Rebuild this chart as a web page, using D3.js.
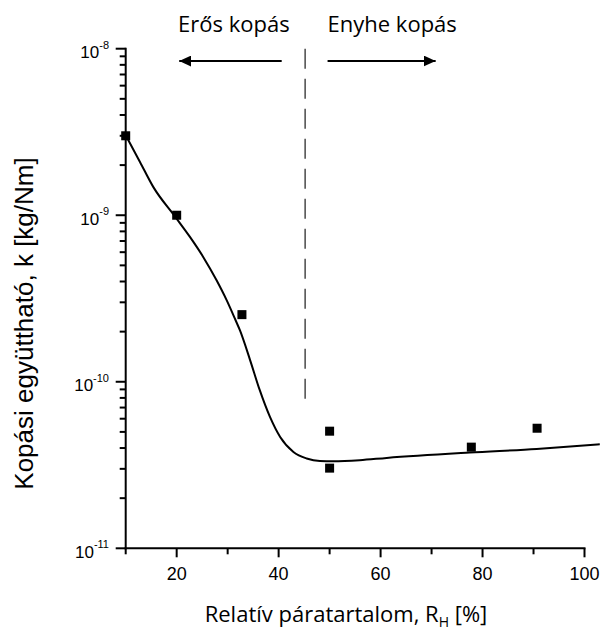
<!DOCTYPE html>
<html>
<head>
<meta charset="utf-8">
<script src="https://cdn.jsdelivr.net/npm/d3@7"></script>
<style>
	body { margin: 0; background: #fff; }
	svg { display: block; }
</style>
</head>
<body>
<div id="chart"></div>
<script>
// measured points
var measRH = [10, 20, 32.8, 50, 50, 77.8, 90.7];
var measK = [3.0e-9, 1.0e-9, 2.53e-10, 5.05e-11, 3.03e-11, 4.05e-11, 5.26e-11];

// fitted curve
var fitRH = [10, 12.8, 15.4, 19.7, 22.6, 25.2, 27.8, 29.8, 31.4, 32.4, 34.4, 36.3, 38.3, 40.3, 42.9, 45.5, 48.1, 50.7, 55.9, 61.2, 77.5, 90.6, 103];
var fitK = [3.02e-9, 2.09e-9, 1.48e-9, 9.8e-10, 7.41e-10, 5.62e-10, 4.08e-10, 3.09e-10, 2.40e-10, 2.04e-10, 1.35e-10, 8.9e-11, 6.15e-11, 4.66e-11, 3.79e-11, 3.46e-11, 3.34e-11, 3.33e-11, 3.38e-11, 3.49e-11, 3.76e-11, 3.95e-11, 4.21e-11];

// ticks
var xMajor = [20, 40, 60, 80, 100];
var xMinor = [10, 30, 50, 70, 90];
var yMajorExp = [-8, -9, -10, -11];

// boundary between the two regimes, and arrows
var boundaryRH = 45.2;
var arrowLeft = [40.6, 20.5];
var arrowRight = [49.6, 70.8];
var labelLeft = "Erős kopás";
var labelRight = "Enyhe kopás";

var width = 600, height = 630;
var margin = { top: 48.7, right: 15.5, bottom: 81.7, left: 125.7 };

var svg = d3.select("#chart")
	.append("svg")
	.attr("width", width)
	.attr("height", height);

var x = d3.scaleLinear()
	.domain([10, 100])
	.range([margin.left, width - margin.right]);

var y = d3.scaleLog()
	.domain([1e-11, 1e-8])
	.range([height - margin.bottom, margin.top]);

var y0 = height - margin.bottom;

// minor y ticks
var yMinor = [];
yMajorExp.slice(1).forEach(function (e) {
	for (var m = 2; m <= 9; m++) yMinor.push(m * Math.pow(10, e));
});

var tickFont = "'Liberation Sans', Arial, sans-serif";

// x ticks
svg.selectAll("line.xminor")
	.data(xMinor)
	.enter().append("line")
	.attr("class", "xminor")
	.attr("x1", function (d) { return x(d); }).attr("x2", function (d) { return x(d); })
	.attr("y1", y0).attr("y2", y0 + 6)
	.attr("stroke", "#000").attr("stroke-width", 2);

svg.selectAll("line.xmajor")
	.data(xMajor)
	.enter().append("line")
	.attr("class", "xmajor")
	.attr("x1", function (d) { return x(d); }).attr("x2", function (d) { return x(d); })
	.attr("y1", y0).attr("y2", y0 + 9)
	.attr("stroke", "#000").attr("stroke-width", 2);

svg.selectAll("text.xlab")
	.data(xMajor)
	.enter().append("text")
	.attr("class", "xlab")
	.attr("x", function (d) { return x(d); })
	.attr("y", y0 + 32)
	.attr("text-anchor", "middle")
	.style("font-family", tickFont)
	.style("font-size", "18px")
	.text(function (d) { return d; });

svg.append("line")
	.attr("x1", x(10) - 1).attr("x2", x(100) + 1)
	.attr("y1", y0).attr("y2", y0)
	.attr("stroke", "#000").attr("stroke-width", 2);

// y ticks
svg.selectAll("line.yminor")
	.data(yMinor)
	.enter().append("line")
	.attr("class", "yminor")
	.attr("x1", margin.left).attr("x2", margin.left - 6)
	.attr("y1", function (d) { return y(d); }).attr("y2", function (d) { return y(d); })
	.attr("stroke", "#000").attr("stroke-width", 2);

svg.selectAll("line.ymajor")
	.data(yMajorExp)
	.enter().append("line")
	.attr("class", "ymajor")
	.attr("x1", margin.left).attr("x2", margin.left - 10)
	.attr("y1", function (d) { return y(Math.pow(10, d)); }).attr("y2", function (d) { return y(Math.pow(10, d)); })
	.attr("stroke", "#000").attr("stroke-width", 2);

svg.append("line")
	.attr("x1", margin.left).attr("x2", margin.left)
	.attr("y1", y(1e-11) + 1).attr("y2", y(1e-8) - 1)
	.attr("stroke", "#000").attr("stroke-width", 2);

yMajorExp.forEach(function (e) {
	var t = svg.append("text")
		.attr("x", 109)
		.attr("y", y(Math.pow(10, e)) + 9.5)
		.attr("text-anchor", "end")
		.style("font-family", tickFont)
		.style("font-size", "17px");
	t.append("tspan").text("10");
	t.append("tspan").attr("dy", -9.5).style("font-size", "11px").text(String(e));
});

// boundary line
svg.append("line")
	.attr("x1", x(boundaryRH)).attr("x2", x(boundaryRH))
	.attr("y1", y(1e-8)).attr("y2", 408)
	.attr("stroke", "#555")
	.attr("stroke-width", 1.6)
	.attr("stroke-dasharray", "20,10");

// arrows
svg.append("defs").append("marker")
	.attr("id", "head")
	.attr("viewBox", "0 0 12 11")
	.attr("refX", 12).attr("refY", 5.5)
	.attr("markerWidth", 12).attr("markerHeight", 11)
	.attr("markerUnits", "userSpaceOnUse")
	.attr("orient", "auto")
	.append("path")
	.attr("d", "M0,0L12,5.5L0,11Z")
	.attr("fill", "#000");

[arrowLeft, arrowRight].forEach(function (a) {
	svg.append("line")
		.attr("x1", x(a[0])).attr("x2", x(a[1]))
		.attr("y1", 61).attr("y2", 61)
		.attr("stroke", "#000")
		.attr("stroke-width", 2)
		.attr("marker-end", "url(#head)");
});

var noteFont = "'Open Sans', sans-serif";
svg.append("text")
	.attr("x", x(arrowLeft[0]) + 8)
	.attr("y", 32)
	.attr("text-anchor", "end")
	.style("font-family", noteFont)
	.style("font-size", "22px")
	.text(labelLeft);

svg.append("text")
	.attr("x", x(arrowRight[0]))
	.attr("y", 32)
	.style("font-family", noteFont)
	.style("font-size", "22px")
	.text(labelRight);

// fitted curve
var fit = fitRH.map(function (d, i) { return { rh: d, k: fitK[i] }; });
svg.append("path")
	.datum(fit)
	.attr("fill", "none")
	.attr("stroke", "#000")
	.attr("stroke-width", 2)
	.attr("d", d3.line()
		.curve(d3.curveMonotoneX)
		.x(function (d) { return x(d.rh); })
		.y(function (d) { return y(d.k); }));

// measured points
var sq = 9;
svg.selectAll("rect.pt")
	.data(measRH.map(function (d, i) { return { rh: d, k: measK[i] }; }))
	.enter()
	.append("rect")
	.attr("class", "pt")
	.attr("x", function (d) { return x(d.rh) - sq / 2; })
	.attr("y", function (d) { return y(d.k) - sq / 2; })
	.attr("width", sq)
	.attr("height", sq)
	.attr("fill", "#000");

// axis titles
var xt = svg.append("text")
	.attr("x", 346)
	.attr("y", 622)
	.attr("text-anchor", "middle")
	.style("font-family", noteFont)
	.style("font-size", "22px");
xt.append("tspan").text("Relatív páratartalom, R");
xt.append("tspan").attr("dy", 5).style("font-size", "14px").text("H");
xt.append("tspan").attr("dy", -5).text(" [%]");

svg.append("text")
	.attr("transform", "translate(33," + 323.5 + ") rotate(-90)")
	.attr("text-anchor", "middle")
	.style("font-family", tickFont)
	.style("font-size", "26px")
	.text("Kopási együttható, k [kg/Nm]");
</script>
</body>
</html>
